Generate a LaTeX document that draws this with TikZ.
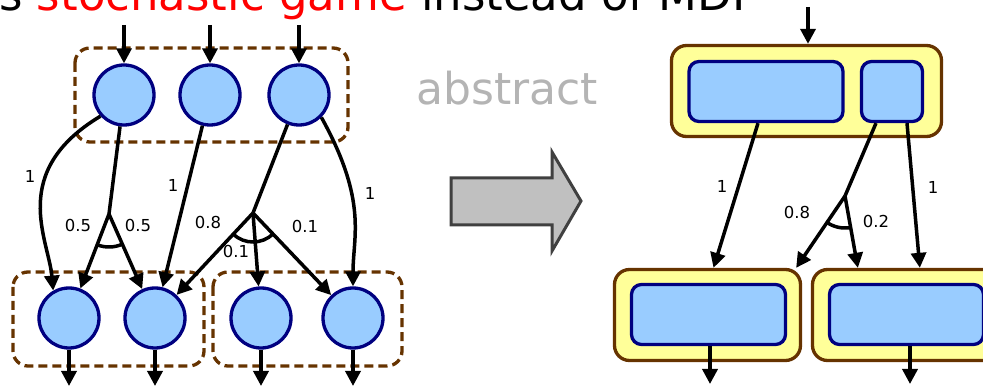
\documentclass[tikz,border=0pt]{standalone}
\usepackage{fontspec}
\setmainfont{DejaVu Sans}
\definecolor{gmBlue}{HTML}{99CCFF}
\definecolor{gmNavy}{HTML}{000080}
\definecolor{gmBrown}{HTML}{663300}
\definecolor{gmYellow}{HTML}{FFFF99}
\definecolor{gmMuted}{HTML}{B4B4B4}
\definecolor{gmArrow}{HTML}{C0C0C0}
\definecolor{gmArrowLine}{HTML}{404040}
\usetikzlibrary{arrows.meta}

\tikzset{
  mdpstate/.style={circle, draw=gmNavy, fill=gmBlue, line width=3.3pt, minimum size=60pt, inner sep=0pt},
  group/.style={draw=gmBrown, line width=3.3pt, dash pattern=on 9pt off 5pt, rounded corners=15pt},
  outerbox/.style={draw=gmBrown, fill=gmYellow, line width=3.3pt, rounded corners=15pt, minimum width=186pt, minimum height=91pt, inner sep=0pt},
  innerbox/.style={draw=gmNavy, fill=gmBlue, line width=3.3pt, rounded corners=10pt, minimum width=154pt, minimum height=60pt, inner sep=0pt},
  stem/.style={line width=3.5pt},
  trans/.style={line width=3.5pt, -{Triangle[length=15pt,width=15pt]}},
  prob/.style={font=\fontsize{16.5}{20}\selectfont, inner sep=1pt},
}

\begin{document}
\begin{tikzpicture}[x=1pt,y=1pt]
  \useasboundingbox (0,0) rectangle (983,-387);

  % heading line (runs off the top of the page)
  \node[anchor=base west, inner sep=0pt, font=\fontsize{45}{54}\selectfont] (title) at (-1,-11)
    {s \textcolor{red}{stochastic game} instead of MDP};

  % ---- concrete game: player groups
  \draw[group] (75,-48) rectangle (348,-142);
  \draw[group] (13,-272) rectangle (204,-366);
  \draw[group] (213,-272) rectangle (402,-366);

  \foreach \n/\x in {t1/124, t2/210, t3/299}
    \node[mdpstate] (\n) at (\x,-95) {};
  \foreach \n/\x in {b1/69, b2/155, b3/261, b4/353}
    \node[mdpstate] (\n) at (\x,-318) {};

  % entry and exit arrows
  \foreach \n in {t1,t2,t3} {
    \coordinate (\n-in) at (\n |- 0,-25);
    \draw[trans] (\n-in) -- (\n);
  }
  \foreach \n in {b1,b2,b3,b4} {
    \coordinate (\n-out) at (\n |- 0,-386);
    \draw[trans] (\n) -- (\n-out);
  }

  % transitions
  \coordinate (fork1) at (109,-214);
  \coordinate (fork2) at (253,-213);
  \draw[trans] (t1.222) .. controls +(211:108) and +(95:51) .. (b1.120);
  \draw[stem] (t1) -- (fork1);
  \draw[trans] (fork1) -- (b1);
  \draw[trans] (fork1) -- (b2);
  \draw[stem] ([shift={(249:33)}]fork1) arc[start angle=249, end angle=294, radius=33];
  \draw[trans] (t2) -- (b2);
  \draw[stem] (t3) -- (fork2);
  \draw[trans] (fork2) -- (b2);
  \draw[trans] (fork2) -- (b3);
  \draw[trans] (fork2) -- (b4);
  \draw[stem] ([shift={(227:29)}]fork2) arc[start angle=227, end angle=314, radius=29];
  \draw[trans] (t3.-45) .. controls +(-61:96) and +(90:50) .. (b4.north);

  \node[prob] (p1) at (30,-176) {1};
  \node[prob] (p2) at (78,-225) {0.5};
  \node[prob] (p3) at (138,-225) {0.5};
  \node[prob] (p4) at (173,-185) {1};
  \node[prob] (p5) at (208,-222) {0.8};
  \node[prob] (p6) at (236,-251) {0.1};
  \node[prob] (p7) at (305,-226) {0.1};
  \node[prob] (p8) at (370,-193) {1};

  % ---- abstraction step
  \node[anchor=base, inner sep=0pt, font=\fontsize{44}{52}\selectfont, text=gmMuted] (abs) at (507,-105) {abstract};
  \draw[line width=3pt, draw=gmArrowLine, fill=gmArrow]
    (451,-178) -- (552,-178) -- (552,-152) -- (581,-201) -- (552,-251) -- (552,-225) -- (451,-225) -- cycle;

  % ---- abstract game
  \node[outerbox, minimum width=270pt] (ra) at (806.5,-91) {};
  \node[innerbox] (ia) at (766,-91.5) {};
  \node[innerbox, minimum width=61pt] (ib) at (892,-91.5) {};
  \node[outerbox] (lb) at (707.5,-315) {};
  \node[innerbox] (la) at (708.5,-314.5) {};
  \node[outerbox] (rb) at (905.5,-315) {};
  \node[innerbox] (rx) at (906.5,-314.5) {};

  \coordinate (ra-in) at (808,-7);
  \draw[trans] (ra-in) -- (ra-in |- ra.north);
  \coordinate (la-out) at (710,-384);
  \coordinate (rx-out) at (910,-384);
  \draw[trans] (la-out |- la.south) -- (la-out);
  \draw[trans] (rx-out |- rx.south) -- (rx-out);

  \coordinate (fork3) at (845,-196);
  \draw[trans] ([xshift=-8pt]ia.south) -- ([xshift=6pt]lb.north);
  \draw[stem] ([xshift=-16pt]ib.south) -- (fork3);
  \draw[trans] (fork3) -- ([xshift=-6pt]lb.north east);
  \draw[trans] (fork3) -- ([xshift=47pt]rb.north west);
  \draw[stem] ([shift={(236:32)}]fork3) arc[start angle=236, end angle=280, radius=32];
  \draw[trans] ([xshift=15pt]ib.south) -- ([xshift=109pt]rb.north west);

  \node[prob] (q1) at (722,-186) {1};
  \node[prob] (q2) at (797,-212) {0.8};
  \node[prob] (q3) at (876,-221) {0.2};
  \node[prob] (q4) at (933,-187) {1};
\end{tikzpicture}
\end{document}
